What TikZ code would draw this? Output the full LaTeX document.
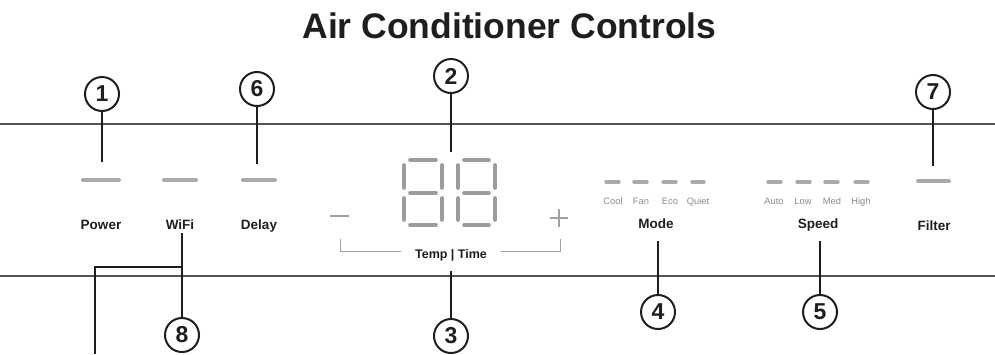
\documentclass[tikz,border=0pt]{standalone}
\usepackage{fontspec}
\setmainfont{Liberation Sans}
\definecolor{ledgray}{HTML}{AAAAAA}
\definecolor{segray}{HTML}{9C9C9C}
\definecolor{linegray}{HTML}{555555}
\definecolor{ink}{HTML}{1E1E1E}
\definecolor{subgray}{HTML}{8A8A8A}
\definecolor{brgray}{HTML}{A0A0A0}
\begin{document}
\begin{tikzpicture}[x=1pt,y=-1pt,
  callout/.style={circle, draw=ink, line width=2pt, minimum size=34pt, inner sep=0pt,
    font=\fontsize{23}{23}\selectfont\bfseries, text=ink},
  leader/.style={draw=ink, line width=2pt},
  led/.style={draw=ledgray, line width=4pt, line cap=round},
  smallled/.style={draw=ledgray, line width=3.4pt, line cap=round},
  seg/.style={draw=segray, line width=3.6pt, line cap=round},
  lbl/.style={font=\fontsize{13.5}{14}\selectfont\bfseries, text=ink, inner sep=0pt, anchor=base},
  sublbl/.style={font=\fontsize{9.3}{10}\selectfont, text=subgray, inner sep=0pt, anchor=base},
  panel/.style={draw=linegray, line width=1.2pt},
  bracket/.style={draw=brgray, line width=0.8pt}]
\useasboundingbox (0,0) rectangle (995,354);

% title
\node[font=\fontsize{35.5}{36}\selectfont\bfseries, text=ink, inner sep=0pt, anchor=base] (title) at (509.5,38.5) {Air Conditioner Controls};

% panel lines
\coordinate (tl) at (0,124); \coordinate (tr) at (995,124);
\coordinate (bl) at (0,276); \coordinate (br) at (995,276);
\draw[panel] (tl) -- (tr);
\draw[panel] (bl) -- (br);

% LEDs
\coordinate (p1) at (83,180); \coordinate (p2) at (119,180);
\coordinate (w1) at (164,180); \coordinate (w2) at (196,180);
\coordinate (d1) at (243,180); \coordinate (d2) at (275,180);
\coordinate (f1) at (918,181); \coordinate (f2) at (949,181);
\draw[led] (p1) -- (p2);
\draw[led] (w1) -- (w2);
\draw[led] (d1) -- (d2);
\draw[led] (f1) -- (f2);

\foreach \a/\b [count=\i] in {606/619,634/647,663/676,692/704}{
  \coordinate (m\i a) at (\a,182); \coordinate (m\i b) at (\b,182);
  \draw[smallled] (m\i a) -- (m\i b);}
\foreach \a/\b [count=\i] in {768/781,797/810,825/838,855/868}{
  \coordinate (s\i a) at (\a,182); \coordinate (s\i b) at (\b,182);
  \draw[smallled] (s\i a) -- (s\i b);}

% labels
\node[lbl] (power) at (101,229) {Power};
\node[lbl] (wifi) at (180,229) {WiFi};
\node[lbl] (delay) at (259,229) {Delay};
\node[lbl] (mode) at (656,228) {Mode};
\node[lbl] (speed) at (818,228) {Speed};
\node[lbl] (filter) at (934,230) {Filter};
\node[lbl, font=\fontsize{12.5}{13}\selectfont\bfseries] (tt) at (451,258) {Temp | Time};

\node[sublbl] (cool) at (613,204) {Cool};
\node[sublbl] (fan) at (641,204) {Fan};
\node[sublbl] (eco) at (670,204) {Eco};
\node[sublbl] (quiet) at (698,204) {Quiet};
\node[sublbl] (auto) at (774,204) {Auto};
\node[sublbl] (low) at (803,204) {Low};
\node[sublbl] (med) at (832,204) {Med};
\node[sublbl] (high) at (861,204) {High};

% seven-segment digits
\foreach \L/\R in {404/442,458/495}{
  \draw[seg] (\L+6,160) -- (\R-6,160);
  \draw[seg] (\L+6,193) -- (\R-6,193);
  \draw[seg] (\L+6,225) -- (\R-6,225);
  \draw[seg] (\L,165) -- (\L,188);
  \draw[seg] (\R,165) -- (\R,188);
  \draw[seg] (\L,198) -- (\L,220);
  \draw[seg] (\R,198) -- (\R,220);
}

% minus and plus
\coordinate (mn1) at (330,216); \coordinate (mn2) at (349,216);
\draw[draw=brgray, line width=1.8pt] (mn1) -- (mn2);
\coordinate (pl) at (559,218);
\draw[draw=brgray, line width=1.6pt] ([xshift=-9pt]pl) -- ([xshift=9pt]pl)
  ([yshift=-9pt]pl) -- ([yshift=9pt]pl);

% bracket
\coordinate (bk1) at (340,239); \coordinate (bk2) at (401,251);
\coordinate (bk3) at (501,251); \coordinate (bk4) at (560,239);
\draw[bracket] (bk1) |- (bk2);
\draw[bracket] (bk3) -| (bk4);

% callouts
\node[callout] (c1) at (102,94) {1};
\node[callout] (c6) at (257,89) {6};
\node[callout] (c2) at (451,76) {2};
\node[callout] (c7) at (933,92) {7};
\node[callout] (c8) at (182,335) {8};
\node[callout] (c3) at (451,336) {3};
\node[callout] (c4) at (658,312) {4};
\node[callout] (c5) at (820,312) {5};

\coordinate (e1) at (102,162);
\coordinate (e6) at (257,164);
\coordinate (e2) at (451,152);
\coordinate (e7) at (933,166);
\coordinate (e3) at (451,271);
\coordinate (e4) at (658,241);
\coordinate (e5) at (820,241);
\coordinate (e8) at (182,233);
\coordinate (j8) at (182,267);
\coordinate (k8) at (95,267);
\coordinate (z8) at (95,354);

\draw[leader] (c1) -- (e1);
\draw[leader] (c6) -- (e6);
\draw[leader] (c2) -- (e2);
\draw[leader] (c7) -- (e7);
\draw[leader] (c3) -- (e3);
\draw[leader] (c4) -- (e4);
\draw[leader] (c5) -- (e5);
\draw[leader] (c8) -- (e8);
\draw[leader] (j8) -- (k8) -- (z8);
\end{tikzpicture}
\end{document}
